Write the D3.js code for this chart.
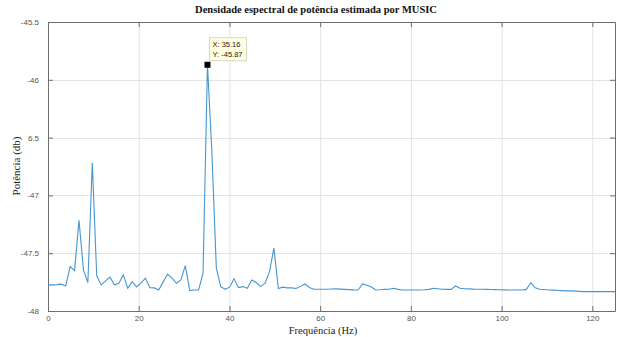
<!DOCTYPE html>
<html>
<head>
<meta charset="utf-8">
<script src="https://cdn.jsdelivr.net/npm/d3@7"></script>
<style>
  html, body { margin: 0; padding: 0; background: #fff; }
  svg { display: block; }
</style>
</head>
<body>
<svg id="chart"></svg>
<script>
// grade de frequências: fs = 250 Hz, nfft = 256 -> 0 ... 125 Hz
var fs = 250;
var nfft = 256;

// potência estimada (db) em cada bin
var power = [
  -47.774, -47.774, -47.772, -47.768, -47.783, -47.615, -47.650, -47.216, -47.644, -47.754,
  -46.718, -47.696, -47.774, -47.740, -47.707, -47.774, -47.760, -47.688, -47.803, -47.746,
  -47.792, -47.757, -47.716, -47.798, -47.800, -47.818, -47.748, -47.681, -47.716, -47.760,
  -47.731, -47.607, -47.824, -47.818, -47.818, -47.673, -45.870, -46.628, -47.629, -47.789,
  -47.812, -47.794, -47.720, -47.798, -47.789, -47.803, -47.731, -47.754, -47.789, -47.760,
  -47.659, -47.456, -47.806, -47.794, -47.800, -47.800, -47.805, -47.787, -47.766, -47.796,
  -47.812, -47.812, -47.812, -47.812, -47.810, -47.809, -47.811, -47.813, -47.815, -47.817,
  -47.818, -47.766, -47.777, -47.792, -47.818, -47.816, -47.813, -47.812, -47.803, -47.813,
  -47.818, -47.818, -47.818, -47.818, -47.818, -47.816, -47.813, -47.803, -47.807, -47.812,
  -47.813, -47.813, -47.783, -47.803, -47.807, -47.809, -47.811, -47.812, -47.812, -47.813,
  -47.814, -47.815, -47.816, -47.817, -47.818, -47.818, -47.818, -47.818, -47.813, -47.754,
  -47.800, -47.812, -47.814, -47.818, -47.819, -47.822, -47.824, -47.826, -47.826, -47.828,
  -47.830, -47.832, -47.832, -47.832, -47.832, -47.832, -47.832, -47.832, -47.832
];

var xTicks = [0, 20, 40, 60, 80, 100, 120];
var yTicks = [-48, -47.5, -47, -46.5, -46, -45.5];
var yTickLabels = ["-48", "-47.5", "-47", "6.5", "-46", "-45.5"];

// ponto marcado (data tip)
var tipIndex = 36;

var W = 618, H = 337;
var margin = { top: 22, right: 3, bottom: 26, left: 48 };
var iWidth = W - margin.left - margin.right;
var iHeight = H - margin.top - margin.bottom;

var data = power.map(function(v, i) { return { f: i * fs / nfft, p: v }; });

var svg = d3.select("#chart").attr("width", W).attr("height", H);

var xScale = d3.scaleLinear().domain([0, 125]).range([0, iWidth]);
var yScale = d3.scaleLinear().domain([-48, -45.5]).range([iHeight, 0]);

var chart = svg.append("g")
    .attr("transform", `translate(${margin.left}, ${margin.top})`);

// grade
chart.append("g").selectAll("line")
    .data(xTicks.slice(1))
    .enter().append("line")
    .attr("x1", d => xScale(d) + 0.5).attr("x2", d => xScale(d) + 0.5)
    .attr("y1", 0).attr("y2", iHeight)
    .attr("stroke", "#e4e4e4").attr("stroke-width", 1);

chart.append("g").selectAll("line")
    .data(yTicks.slice(1, -1))
    .enter().append("line")
    .attr("x1", 0).attr("x2", iWidth)
    .attr("y1", d => Math.round(yScale(d)) + 0.5).attr("y2", d => Math.round(yScale(d)) + 0.5)
    .attr("stroke", "#e4e4e4").attr("stroke-width", 1);

// eixos
var axisColor = "#6e6e6e";
function styleAxis(g) {
    g.select(".domain").attr("stroke", axisColor);
    g.selectAll(".tick line").attr("stroke", axisColor);
    g.selectAll(".tick text")
        .attr("fill", "#555")
        .style("font-family", "'Liberation Sans', Arial, sans-serif")
        .style("font-size", "8px");
}

chart.append("g")
    .attr("transform", `translate(0, ${iHeight})`)
    .call(d3.axisBottom(xScale).tickValues(xTicks).tickSizeInner(-5).tickSizeOuter(0).tickPadding(4))
    .call(styleAxis);

chart.append("g")
    .call(d3.axisTop(xScale).tickValues(xTicks).tickSizeInner(-5).tickSizeOuter(0).tickFormat(""))
    .call(styleAxis);

chart.append("g")
    .call(d3.axisLeft(yScale).tickValues(yTicks).tickSizeInner(-5).tickSizeOuter(0).tickPadding(9)
        .tickFormat((d, i) => yTickLabels[i]))
    .call(styleAxis);

chart.append("g")
    .attr("transform", `translate(${iWidth}, 0)`)
    .call(d3.axisRight(yScale).tickValues(yTicks).tickSizeInner(-5).tickSizeOuter(0).tickFormat(""))
    .call(styleAxis);

// linha do espectro
var line = d3.line()
    .x(d => xScale(d.f))
    .y(d => yScale(d.p));

chart.append("path")
    .datum(data)
    .attr("fill", "none")
    .attr("stroke", "#4796d0")
    .attr("stroke-width", 1.1)
    .attr("d", line);

// data tip
var tip = data[tipIndex];
var tx = xScale(tip.f), ty = yScale(tip.p);

chart.append("rect")
    .attr("x", tx - 3).attr("y", ty - 3)
    .attr("width", 6).attr("height", 6)
    .attr("fill", "#000");

var tipG = chart.append("g")
    .attr("transform", `translate(${tx + 2}, ${ty - 27})`);

tipG.append("rect")
    .attr("width", 37).attr("height", 23)
    .attr("fill", "#ffffe1")
    .attr("stroke", "#d8d8c0");

tipG.selectAll("text")
    .data(["X: " + tip.f.toFixed(2), "Y: " + tip.p.toFixed(2)])
    .enter().append("text")
    .attr("x", 3).attr("y", (d, i) => 9 + i * 10)
    .attr("fill", "#222")
    .style("font-family", "'Liberation Sans', Arial, sans-serif")
    .style("font-size", "7.5px")
    .text(d => d);

// títulos
svg.append("text")
    .attr("x", 316).attr("y", 13)
    .attr("text-anchor", "middle")
    .style("font-family", "'Liberation Serif', 'Times New Roman', serif")
    .style("font-weight", "bold")
    .style("font-size", "10.5px")
    .attr("fill", "#111")
    .text("Densidade espectral de potência estimada por MUSIC");

svg.append("text")
    .attr("x", 323).attr("y", 334)
    .attr("text-anchor", "middle")
    .style("font-family", "'Liberation Serif', 'Times New Roman', serif")
    .style("font-size", "10.5px")
    .attr("fill", "#222")
    .text("Frequência (Hz)");

svg.append("text")
    .attr("transform", "translate(20, 166) rotate(-90)")
    .attr("text-anchor", "middle")
    .style("font-family", "'Liberation Serif', 'Times New Roman', serif")
    .style("font-size", "11px")
    .attr("fill", "#222")
    .text("Potência (db)");
</script>
</body>
</html>
